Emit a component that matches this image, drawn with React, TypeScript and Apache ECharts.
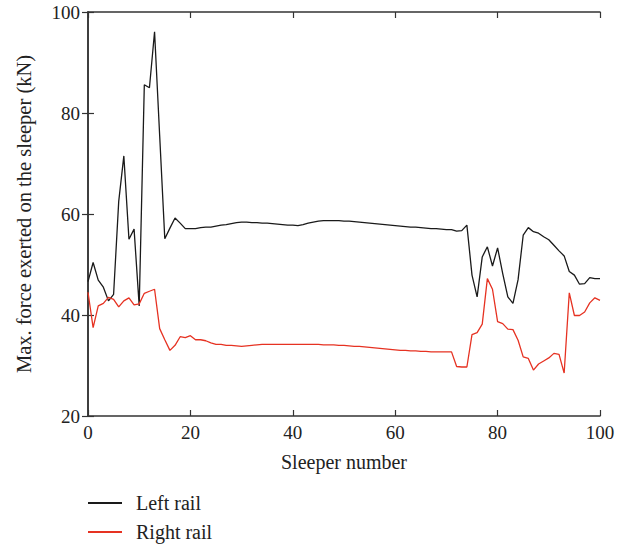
import React, { useEffect, useRef } from "react";
import * as echarts from "echarts";

const sleepers: number[] = Array.from({ length: 101 }, (_, i) => i);

const leftRail: number[] = [
  46.6, 50.4, 46.9, 45.5, 42.8, 44.1, 62.5, 71.5, 55.0, 57.0,
  41.8, 85.6, 85.0, 96.1, 75.5, 55.1, 57.2, 59.2, 58.2, 57.1,
  57.1, 57.1, 57.3, 57.4, 57.4, 57.6, 57.8, 57.9, 58.1, 58.3,
  58.4, 58.4, 58.3, 58.3, 58.2, 58.2, 58.1, 58.0, 57.9, 57.8,
  57.8, 57.7, 57.9, 58.2, 58.4, 58.6, 58.7, 58.7, 58.7, 58.7,
  58.6, 58.6, 58.5, 58.4, 58.3, 58.2, 58.1, 58.0, 57.9, 57.8,
  57.7, 57.6, 57.5, 57.4, 57.4, 57.3, 57.2, 57.1, 57.1, 57.0,
  56.9, 56.9, 56.6, 56.7, 57.8, 47.9, 43.6, 51.5, 53.5, 49.7,
  53.3, 48.2, 43.6, 42.3, 47.0, 55.8, 57.3, 56.5, 56.2, 55.5,
  54.9, 53.8, 52.7, 51.7, 48.6, 47.9, 46.1, 46.2, 47.4, 47.2,
  47.2,
];

const rightRail: number[] = [
  44.5, 37.5, 41.8, 42.3, 43.5, 43.1, 41.6, 42.8, 43.4, 42.0,
  42.2, 44.3, 44.7, 45.1, 37.3, 35.1, 33.0, 34.0, 35.7, 35.5,
  35.9, 35.1, 35.1, 34.9, 34.5, 34.2, 34.2, 34.0, 34.0, 33.9,
  33.8, 33.9, 34.0, 34.1, 34.2, 34.2, 34.2, 34.2, 34.2, 34.2,
  34.2, 34.2, 34.2, 34.2, 34.2, 34.2, 34.1, 34.1, 34.1, 34.0,
  34.0, 33.9, 33.8, 33.8, 33.7, 33.6, 33.5, 33.4, 33.3, 33.2,
  33.1, 33.0, 33.0, 32.9, 32.9, 32.8, 32.8, 32.7, 32.7, 32.7,
  32.7, 32.7, 29.8, 29.7, 29.7, 36.1, 36.5, 38.2, 47.2, 45.1,
  38.7, 38.3, 37.2, 37.1, 35.0, 31.7, 31.4, 29.1, 30.3, 30.9,
  31.5, 32.4, 32.2, 28.5, 44.4, 39.9, 39.9, 40.6, 42.4, 43.4,
  42.9,
];

const xTicks = { min: 0, max: 100, interval: 20 };
const yTicks = { min: 20, max: 100, interval: 20 };

const FONT = "Liberation Serif";
const BLACK = "#1a1a1a";
const RED = "#e63222";
const AXIS = "#333333";
const TEXT = "#222222";

export default function App() {
  const ref = useRef<HTMLDivElement>(null);

  useEffect(() => {
    if (!ref.current) return;
    const chart = echarts.init(ref.current, null, { renderer: "svg" });
    const axisLine = { show: true, lineStyle: { color: AXIS, width: 1.5 } };
    const axisTick = { show: true, inside: true, length: 6, lineStyle: { color: AXIS, width: 1.2 } };
    const labelStyle = { fontFamily: FONT, fontSize: 19, color: TEXT };
    chart.setOption({
      animation: false,
      backgroundColor: "#ffffff",
      textStyle: { fontFamily: FONT },
      grid: { left: 88, right: 30, top: 12, bottom: 138, containLabel: false },
      legend: {
        orient: "vertical",
        left: 88,
        top: 493,
        padding: 0,
        itemWidth: 34,
        itemHeight: 2,
        itemGap: 9,
        icon: "rect",
        textStyle: { fontFamily: FONT, fontSize: 20, color: TEXT, padding: [0, 0, 0, 9] },
        data: ["Left rail", "Right rail"],
      },
      xAxis: [
        {
          type: "value",
          ...xTicks,
          position: "bottom",
          name: "Sleeper number",
          nameLocation: "middle",
          nameGap: 36,
          nameTextStyle: { ...labelStyle, fontSize: 20 },
          axisLine,
          axisTick,
          splitLine: { show: false },
          axisLabel: { ...labelStyle, margin: 7 },
        },
        {
          type: "value",
          ...xTicks,
          position: "top",
          axisLine,
          axisTick,
          splitLine: { show: false },
          axisLabel: { show: false },
        },
      ],
      yAxis: [
        {
          type: "value",
          ...yTicks,
          position: "left",
          name: "Max. force exerted on the sleeper (kN)",
          nameLocation: "middle",
          nameGap: 54,
          nameTextStyle: { ...labelStyle, fontSize: 20.5 },
          axisLine,
          axisTick,
          splitLine: { show: false },
          axisLabel: { ...labelStyle, margin: 8 },
        },
        {
          type: "value",
          ...yTicks,
          position: "right",
          axisLine,
          axisTick,
          splitLine: { show: false },
          axisLabel: { show: false },
        },
      ],
      series: [
        {
          name: "Left rail",
          type: "line",
          data: sleepers.map((x, i) => [x, leftRail[i]]),
          showSymbol: false,
          symbol: "none",
          lineStyle: { color: BLACK, width: 1.3 },
          itemStyle: { color: BLACK },
        },
        {
          name: "Right rail",
          type: "line",
          data: sleepers.map((x, i) => [x, rightRail[i]]),
          showSymbol: false,
          symbol: "none",
          lineStyle: { color: RED, width: 1.3 },
          itemStyle: { color: RED },
        },
      ],
    });
    return () => chart.dispose();
  }, []);

  return <div ref={ref} style={{ width: 630, height: 554, position: "absolute", left: 0, top: 0 }} />;
}
